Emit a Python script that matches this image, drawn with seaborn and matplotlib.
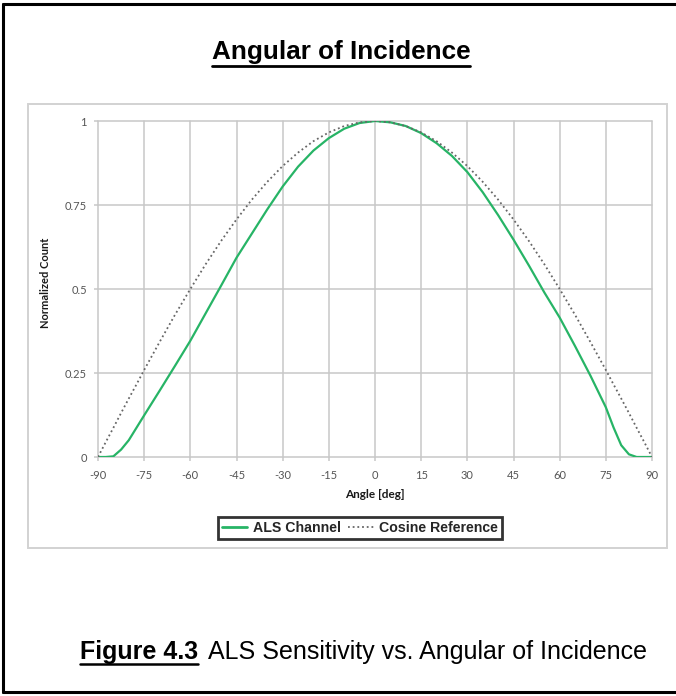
import matplotlib
matplotlib.use("Agg")
import matplotlib.pyplot as plt
import seaborn as sns
import pandas as pd
from matplotlib.lines import Line2D
from matplotlib.patches import Rectangle

# Values
angles = [-90, -87.5, -85, -82.5, -80, -77.5, -75, -70, -65, -60, -55, -50, -45, -40,
          -35, -30, -25, -20, -15, -10, -5, 0, 5, 10, 15, 20, 25, 30, 35, 40, 45,
          50, 55, 60, 65, 70, 75, 77.5, 80, 82.5, 85, 87.5, 90]
als_channel = [0, 0, 0.002, 0.022, 0.05, 0.087, 0.124, 0.197, 0.271, 0.346, 0.428, 0.51,
               0.593, 0.665, 0.737, 0.805, 0.864, 0.912, 0.949, 0.977, 0.994, 1.0, 0.996,
               0.985, 0.964, 0.934, 0.896, 0.848, 0.788, 0.72, 0.647, 0.57, 0.49, 0.415,
               0.33, 0.242, 0.148, 0.088, 0.035, 0.008, 0, 0, 0]
cosine_reference = [0, 0.044, 0.087, 0.131, 0.174, 0.216, 0.259, 0.342, 0.423, 0.5, 0.574,
                    0.643, 0.707, 0.766, 0.819, 0.866, 0.906, 0.94, 0.966, 0.985, 0.996, 1.0,
                    0.996, 0.985, 0.966, 0.94, 0.906, 0.866, 0.819, 0.766, 0.707, 0.643,
                    0.574, 0.5, 0.423, 0.342, 0.259, 0.216, 0.174, 0.131, 0.087, 0.044, 0]
x_ticks = [-90, -75, -60, -45, -30, -15, 0, 15, 30, 45, 60, 75, 90]
y_ticks = [0, 0.25, 0.5, 0.75, 1]
y_tick_labels = ["0", "0.25", "0.5", "0.75", "1"]

df = pd.DataFrame({"Angle": angles, "ALS Channel": als_channel,
                   "Cosine Reference": cosine_reference})

sns.set_theme(style="white")
plt.rcParams["font.family"] = ["Liberation Sans", "DejaVu Sans"]

W, H = 676, 696
fig = plt.figure(figsize=(W / 100, H / 100), dpi=100)
fig.patch.set_facecolor("white")


def fx(x):
    return x / W


def fy(y):
    return 1 - y / H


# plot area
ax = fig.add_axes([fx(98), fy(457), fx(554), 336 / H])
sns.lineplot(data=df, x="Angle", y="ALS Channel", ax=ax, color="#27b466",
             linewidth=1.6, label="ALS Channel")
sns.lineplot(data=df, x="Angle", y="Cosine Reference", ax=ax, color="#666666",
             linewidth=1.3, linestyle=(0, (1, 1.6)), label="Cosine Reference")

ax.set_xlim(-90, 90)
ax.set_ylim(0, 1)
ax.set_xticks(x_ticks)
ax.set_xticklabels([str(t) for t in x_ticks])
ax.set_yticks(y_ticks)
ax.set_yticklabels(y_tick_labels)
ax.grid(True, color="#c8c8c8", linewidth=1.1)
for gl in ax.get_xgridlines() + ax.get_ygridlines():
    gl.set_clip_on(False)
for s in ax.spines.values():
    s.set_visible(False)
ax.tick_params(axis="both", length=3, width=1.1, color="#c8c8c8", labelsize=8,
               labelcolor="#555555")
ax.tick_params(axis="x", pad=6.5, bottom=True)
ax.tick_params(axis="y", pad=5, left=True)
for lab in ax.get_xticklabels() + ax.get_yticklabels():
    lab.set_family(["Lato", "DejaVu Sans"])
ax.set_xlabel("")
ax.set_ylabel("")
ax.get_legend().remove()

fig.text(fx(375), fy(494), "Angle [deg]", ha="center", va="center", fontsize=8.5,
         fontweight="bold", color="#1a1a1a", family=["Lato", "DejaVu Sans"])
fig.text(fx(45), fy(283), "Normalized Count", ha="center", va="center", rotation=90,
         fontsize=8, fontweight="bold", color="#1a1a1a", family=["Lato", "DejaVu Sans"])

handles = [Line2D([], [], color="#27b466", linewidth=2.0),
           Line2D([], [], color="#666666", linewidth=1.3, linestyle=(0, (1, 1.6)))]
leg = fig.legend(handles, ["ALS Channel", "Cosine Reference"], loc="center",
                 bbox_to_anchor=(fx(360), fy(528)), ncol=2, frameon=True, fancybox=False,
                 prop={"weight": "bold", "size": 10.2}, handlelength=1.8,
                 handletextpad=0.4, columnspacing=0.5, borderpad=0.25,
                 edgecolor="black")
leg.get_frame().set_linewidth(2.0)

# chart frame (light gray)
fig.add_artist(Rectangle((fx(28), fy(548)), fx(639), 444 / H, transform=fig.transFigure,
                         fill=False, edgecolor="#d2d2d2", linewidth=1.4))

# page border (black)
for xs, ys in [((3, 680), (4, 4)), ((3, 3), (4, 692)), ((3, 680), (692, 692))]:
    fig.add_artist(Line2D([fx(xs[0]), fx(xs[1])], [fy(ys[0]), fy(ys[1])],
                          transform=fig.transFigure, color="black", linewidth=2.2))

# title and caption
title = fig.text(fx(341), fy(59), "Angular of Incidence", ha="center", va="baseline",
                 fontsize=18.8, fontweight="bold", color="black")
fig_num = fig.text(fx(80), fy(659), "Figure 4.3", ha="left", va="baseline",
                   fontsize=18, fontweight="bold", color="black")

fig.canvas.draw()
renderer = fig.canvas.get_renderer()
bb_fig = fig_num.get_window_extent(renderer)
fig.text(bb_fig.x1 / W + fx(10), fy(659), "ALS Sensitivity vs. Angular of Incidence",
         ha="left", va="baseline", fontsize=18, color="black")


def underline(txt, y_px, lw):
    bb = txt.get_window_extent(renderer)
    fig.add_artist(Line2D([bb.x0 / W, bb.x1 / W], [fy(y_px), fy(y_px)],
                          transform=fig.transFigure, color="black", linewidth=lw))


underline(title, 65.5, 2.0)
underline(fig_num, 664, 1.8)

fig.savefig("out.png", dpi=100, facecolor="white")
